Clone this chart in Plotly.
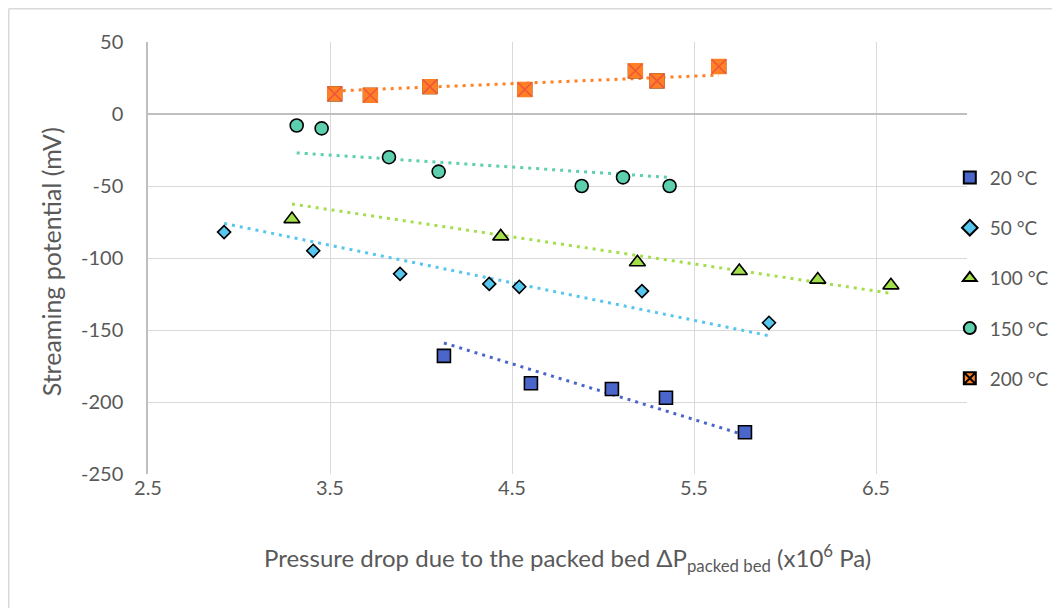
import plotly.graph_objects as go

# ---- data ----
x_20 = [4.126, 4.604, 5.049, 5.346, 5.780]
y_20 = [-168, -187, -191, -197, -221]
x_50 = [2.918, 3.408, 3.885, 4.375, 4.540, 5.214, 5.912]
y_50 = [-82, -95, -111, -118, -120, -123, -145]
x_100 = [3.291, 4.438, 5.189, 5.749, 6.180, 6.582]
y_100 = [-73, -85, -103, -109, -115, -119]
x_150 = [3.317, 3.454, 3.824, 4.097, 4.883, 5.110, 5.366]
y_150 = [-8, -10, -30, -40, -50, -44, -50]
x_200 = [3.526, 3.722, 4.049, 4.570, 5.178, 5.297, 5.636]
y_200 = [14, 13, 19, 17, 30, 23, 33]

# trendline end points (as drawn in the reference)
trend_20_x = [4.126, 5.780]
trend_20_y = [-159, -223]
trend_50_x = [2.918, 5.912]
trend_50_y = [-76, -154]
trend_100_x = [3.291, 6.582]
trend_100_y = [-62.5, -124.5]
trend_150_x = [3.317, 5.366]
trend_150_y = [-27, -44]
trend_200_x = [3.526, 5.636]
trend_200_y = [16, 27]

series_names = ["20 °C", "50 °C", "100 °C", "150 °C", "200 °C"]
x_ticks = [2.5, 3.5, 4.5, 5.5, 6.5]
y_ticks = [50, 0, -50, -100, -150, -200, -250]
x_title = "Pressure drop due to the packed bed ΔP<sub>packed bed</sub> (x10<sup>6</sup> Pa)"
y_title = "Streaming potential (mV)"

C20 = "#4a66cb"
C50 = "#56c6ee"
C100 = "#a2df4a"
C150 = "#5ccfae"
C200 = "#ff8025"
FONT = "Lato"
GREY = "#595959"

fig = go.Figure()

def trend(xs, ys, color):
    fig.add_trace(go.Scatter(x=xs, y=ys, mode="lines", showlegend=False,
                             hoverinfo="skip",
                             line=dict(color=color, width=3, dash="3px,5px")))

trend(trend_20_x, trend_20_y, C20)
trend(trend_50_x, trend_50_y, C50)
trend(trend_100_x, trend_100_y, C100)
trend(trend_150_x, trend_150_y, C150)
trend(trend_200_x, trend_200_y, C200)

mline = dict(color="black", width=1.6)
fig.add_trace(go.Scatter(x=x_20, y=y_20, mode="markers", name=series_names[0],
                         legendgroup="a",
                         marker=dict(symbol="square", size=13, color=C20, line=mline)))
fig.add_trace(go.Scatter(x=x_50, y=y_50, mode="markers", name=series_names[1],
                         legendgroup="b",
                         marker=dict(symbol="diamond", size=10, color=C50, line=mline)))
fig.add_trace(go.Scatter(x=x_100, y=y_100, mode="markers", name=series_names[2],
                         legendgroup="c",
                         marker=dict(symbol="triangle-up", size=14, color=C100, line=mline)))
fig.add_trace(go.Scatter(x=x_150, y=y_150, mode="markers", name=series_names[3],
                         legendgroup="d",
                         marker=dict(symbol="circle", size=13, color=C150, line=mline)))
# 200 °C: orange square with black cross
fig.add_trace(go.Scatter(x=x_200, y=y_200, mode="markers", name=series_names[4],
                         legendgroup="e",
                         marker=dict(symbol="square-x", size=14, color=C200,
                                     line=dict(color="black", width=1.2))))
fig.add_trace(go.Scatter(x=x_200, y=y_200, mode="markers", showlegend=False,
                         legendgroup="e", hoverinfo="skip",
                         marker=dict(symbol="square", size=14, color=C200,
                                     line=dict(color=C200, width=1.4))))
fig.add_trace(go.Scatter(x=x_200, y=y_200, mode="markers", showlegend=False,
                         legendgroup="e", hoverinfo="skip",
                         marker=dict(symbol="x-thin-open", size=14,
                                     line=dict(color="black", width=1.6))))

fig.update_layout(
    width=1052, height=600,
    margin=dict(l=140, r=93, t=34, b=134, autoexpand=False),
    paper_bgcolor="white", plot_bgcolor="white",
    font=dict(family=FONT, color=GREY, size=20),
    showlegend=True,
    legend=dict(x=0.979, xanchor="left", y=0.73, yanchor="top",
                font=dict(family=FONT, size=19, color=GREY),
                tracegroupgap=22.5, itemsizing="constant",
                bgcolor="rgba(0,0,0,0)"),
    xaxis=dict(range=[2.5, 7.0], tickmode="array", tickvals=x_ticks,
               ticktext=[str(v) for v in x_ticks],
               showgrid=True, gridcolor="#d9d9d9", gridwidth=1.3,
               zeroline=False, showline=False, ticks="",
               tickfont=dict(family=FONT, size=20, color=GREY)),
    yaxis=dict(range=[-250, 50], tickmode="array", tickvals=y_ticks,
               ticktext=[str(v) for v in y_ticks],
               showgrid=True, gridcolor="#d9d9d9", gridwidth=1.3,
               zeroline=True, zerolinecolor="#bfbfbf", zerolinewidth=2.2,
               showline=True, linecolor="#bfbfbf", linewidth=1.5,
               ticks="", ticklabelstandoff=19,
               tickfont=dict(family=FONT, size=20, color=GREY)),
    annotations=[
        dict(text=x_title, xref="paper", yref="paper", x=0.512, y=-0.194,
             xanchor="center", yanchor="middle", showarrow=False,
             font=dict(family=FONT, size=24, color=GREY)),
        dict(text=y_title, xref="paper", yref="paper", x=-0.1184, y=0.49,
             xanchor="center", yanchor="middle", textangle=-90, showarrow=False,
             font=dict(family=FONT, size=25, color=GREY)),
    ],
    shapes=[
        dict(type="line", xref="paper", yref="paper",
             x0=-0.170, x1=-0.170, y0=1.077, y1=-0.4,
             line=dict(color="#d9d9d9", width=1.5)),
        dict(type="line", xref="paper", yref="paper",
             x0=-0.170, x1=1.2, y0=1.077, y1=1.077,
             line=dict(color="#d9d9d9", width=1.5)),
    ],
)

fig.write_html("out.html")
